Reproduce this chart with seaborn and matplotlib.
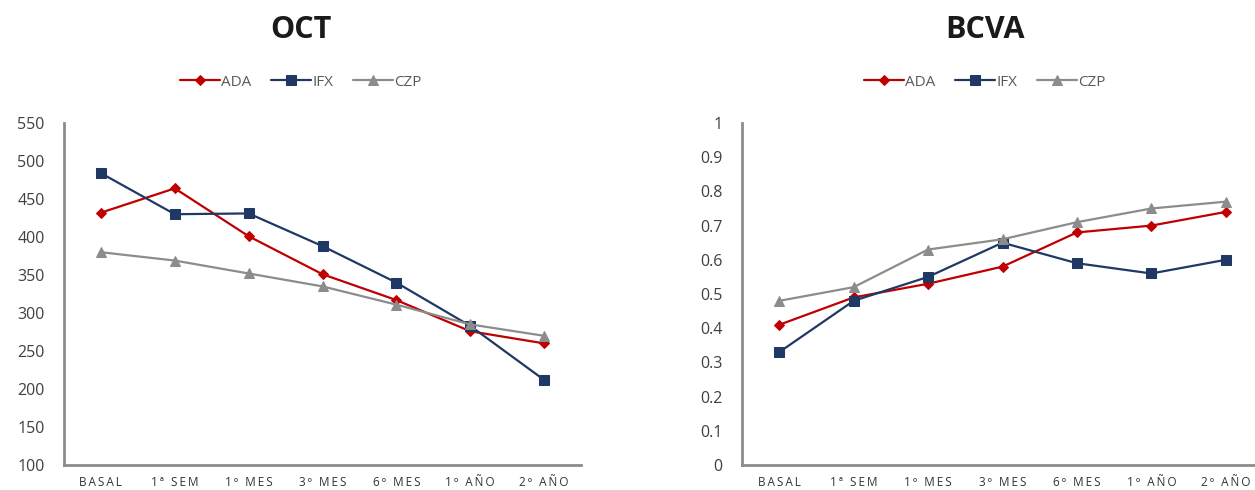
import matplotlib
matplotlib.use('Agg')
import matplotlib.pyplot as plt
import pandas as pd
import seaborn as sns

# Datos
periods = ['BASAL', '1ª SEM', '1º MES', '3º MES', '6º MES', '1º AÑO', '2º AÑO']
groups = ['ADA', 'IFX', 'CZP']

oct_ada = [432, 464, 401, 351, 317, 276, 260]
oct_ifx = [484, 430, 431, 388, 340, 283, 212]
oct_czp = [380, 369, 352, 335, 311, 285, 270]

bcva_ada = [0.41, 0.49, 0.53, 0.58, 0.68, 0.70, 0.74]
bcva_ifx = [0.33, 0.48, 0.55, 0.65, 0.59, 0.56, 0.60]
bcva_czp = [0.48, 0.52, 0.63, 0.66, 0.71, 0.75, 0.77]

colors = {'ADA': '#C00000', 'IFX': '#1F3864', 'CZP': '#8C8C8C'}
markers = {'ADA': 'D', 'IFX': 's', 'CZP': '^'}
sizes = {'ADA': 5.5, 'IFX': 6.5, 'CZP': 6.5}


def to_long(ada, ifx, czp):
    rows = []
    for g, vals in zip(groups, [ada, ifx, czp]):
        for p, v in zip(periods, vals):
            rows.append({'period': p, 'group': g, 'value': v})
    return pd.DataFrame(rows)


def spaced(txt):
    # espaciado entre letras como en el original
    return '\u2009'.join(txt)


df_oct = to_long(oct_ada, oct_ifx, oct_czp)
df_bcva = to_long(bcva_ada, bcva_ifx, bcva_czp)

sns.set_style('white')
plt.rcParams['font.family'] = ['Open Sans', 'DejaVu Sans']

fig = plt.figure(figsize=(12.55, 4.9), dpi=100)
ax1 = fig.add_axes([64 / 1255, 25 / 490, 517 / 1255, 342 / 490])
ax2 = fig.add_axes([742 / 1255, 25 / 490, 521 / 1255, 342 / 490])


def draw(ax, df, ylim, yticks, ylabels, title, cx):
    for g in groups:
        sub = df[df['group'] == g]
        sns.lineplot(data=sub, x='period', y='value', ax=ax, color=colors[g],
                     marker=markers[g], markersize=sizes[g], markeredgecolor=colors[g],
                     linewidth=1.6, label=g, legend=False, sort=False)
    ax.set_xlim(-0.5, 6.5)
    ax.set_ylim(*ylim)
    ax.set_yticks(yticks)
    ax.set_yticklabels(ylabels, fontsize=11.5, color='#404040')
    ax.set_xticks(range(len(periods)))
    ax.set_xticklabels([spaced(p) for p in periods], fontsize=8.5, color='#333333')
    ax.tick_params(axis='y', length=0, pad=14)
    ax.tick_params(axis='x', length=0, pad=8)
    ax.set_xlabel('')
    ax.set_ylabel('')
    for s in ['top', 'right']:
        ax.spines[s].set_visible(False)
    for s in ['left', 'bottom']:
        ax.spines[s].set_color('#8C8C8C')
        ax.spines[s].set_linewidth(2)
    fig.text(cx, 1 - 30 / 490, title, ha='center', va='center',
             fontsize=22, fontweight='bold', color='#1a1a1a')
    handles, labels = ax.get_legend_handles_labels()
    fig.legend(handles, labels, loc='center', bbox_to_anchor=(cx, 1 - 82 / 490),
               ncol=3, frameon=False, fontsize=11, labelcolor='#595959',
               handlelength=2.6, handletextpad=0.1, columnspacing=1.3)


draw(ax1, df_oct, (100, 550), range(100, 551, 50),
     [str(v) for v in range(100, 551, 50)], 'OCT', 301 / 1255)
yt = [i / 10 for i in range(11)]
draw(ax2, df_bcva, (0, 1), yt, ['0'] + [f'{v:.1f}' for v in yt[1:-1]] + ['1'],
     'BCVA', 985 / 1255)

fig.savefig('out.png', dpi=100)
